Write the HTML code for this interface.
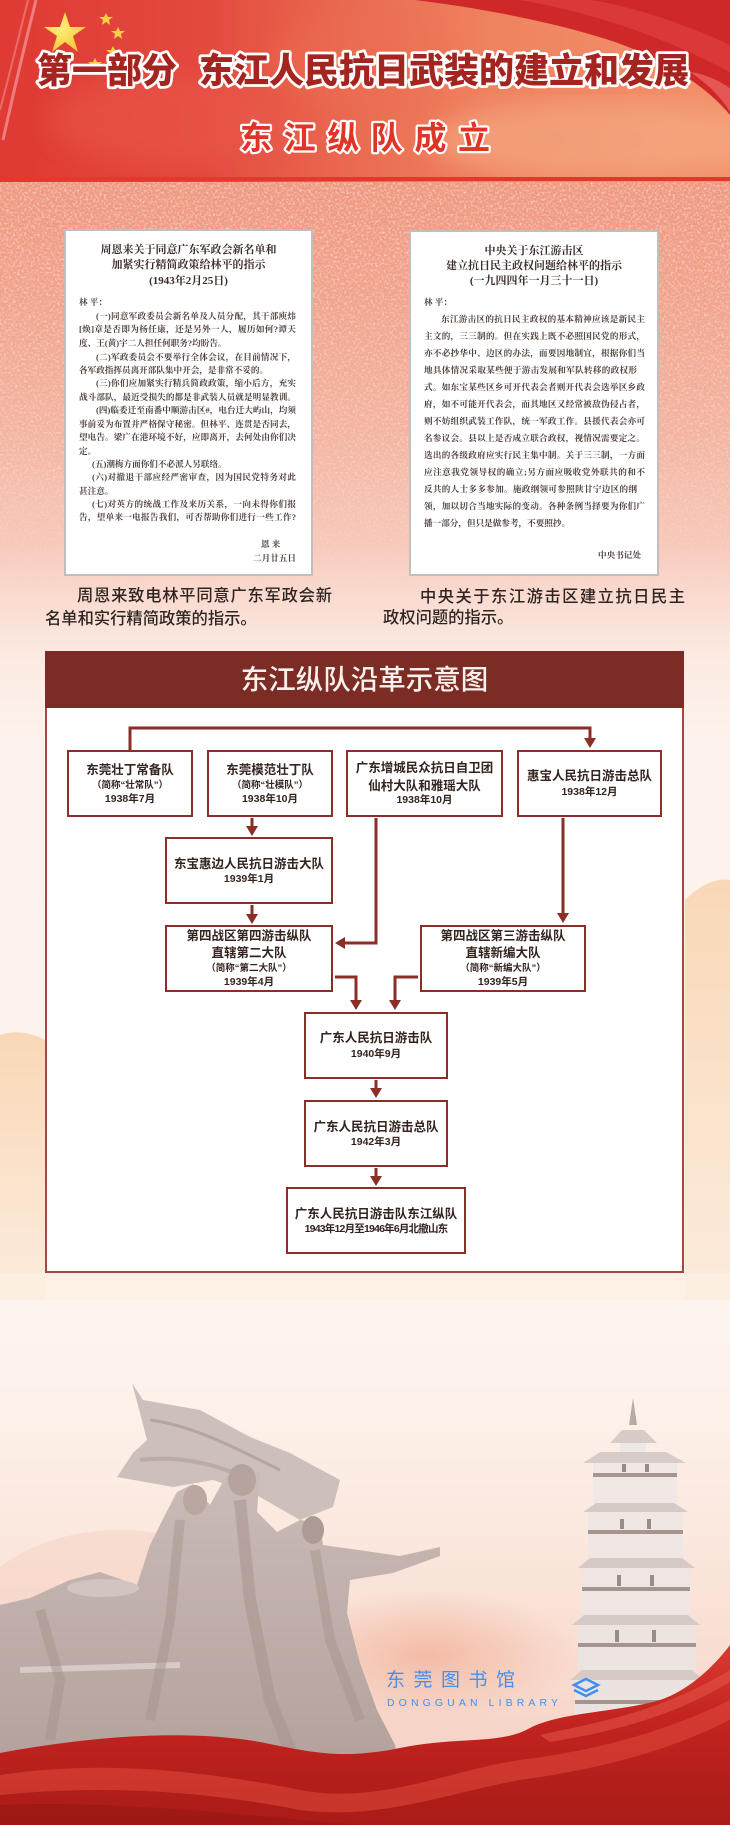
<!DOCTYPE html>
<html><head><meta charset="utf-8">
<style>
*{margin:0;padding:0;box-sizing:border-box}
html,body{width:730px;height:1825px;overflow:hidden}
body{position:relative;font-family:"Liberation Sans","Noto Sans CJK SC",sans-serif;background:#fdf3ed}
.abs{position:absolute}
.bg{position:absolute;left:0;top:181px;width:730px;height:1644px;
background:linear-gradient(to bottom,#ef9880 0px,#f1a28b 110px,#f4b5a2 260px,#f7c8b9 360px,#fadcd1 420px,#fcebe3 480px,#fdf2ec 560px,#fdf4ee 1100px,#fdf3ec 1200px,#fbe8de 1350px,#f8dbcf 1500px,#f5cfc2 1600px)}
.doc{position:absolute;background:#fff;border:2px solid #c3bebd}
.dt{position:absolute;font-family:"Liberation Serif","Noto Serif CJK SC",serif;font-weight:700;color:#3b2c28;font-size:11px;line-height:14px;height:14px;text-align:center;white-space:nowrap}
.dl{position:absolute;font-family:"Liberation Serif","Noto Serif CJK SC",serif;color:#4e403c;font-size:8.6px;line-height:12px;height:12px;text-align:justify;text-align-last:justify;font-weight:700}
.dl.s{text-align:left;text-align-last:left}
.cap{position:absolute;font-size:16.3px;line-height:22px;height:22px;color:#2e2422;font-weight:500;white-space:nowrap}
.cap.j{text-align:justify;text-align-last:justify;white-space:normal}
.frame{position:absolute;left:45px;top:651px;width:639px;height:622px;background:#fff;border:2px solid #a04a42}
.bar{position:absolute;left:45px;top:651px;width:639px;height:57px;background:#7a2c25;color:#fbf1ec;font-size:27.5px;font-weight:500;text-align:center;line-height:57px}
.box{position:absolute;border:2.2px solid #8b2e27;background:#fff}
.t{position:absolute;text-align:center;white-space:nowrap;color:#33241f;font-weight:700;height:16px;line-height:16px}
.n{font-size:12.5px}
.a{font-size:9.5px}
.d{font-size:10.5px}
</style></head>
<body>
<div class="bg"></div>

<!-- speckle texture on salmon area -->
<svg class="abs" style="left:0;top:181px" width="730" height="420" viewBox="0 0 730 420">
<defs>
<filter id="nz" x="0" y="0" width="100%" height="100%">
<feTurbulence type="fractalNoise" baseFrequency="0.45" numOctaves="2" seed="7"/>
<feColorMatrix type="matrix" values="0 0 0 0 1  0 0 0 0 1  0 0 0 0 1  1.8 0 0 0 -0.82"/>
</filter>
<linearGradient id="fm" x1="0" y1="0" x2="0" y2="1"><stop offset="0" stop-color="#fff"/><stop offset=".7" stop-color="#fff" stop-opacity=".6"/><stop offset="1" stop-color="#fff" stop-opacity="0"/></linearGradient>
<mask id="mk"><rect width="730" height="420" fill="url(#fm)"/></mask>
</defs>
<rect width="730" height="420" filter="url(#nz)" mask="url(#mk)" opacity=".8"/>
</svg>

<!-- side peach hills -->
<svg class="abs" style="left:0;top:860px" width="730" height="440" viewBox="0 860 730 440">
<defs>
<linearGradient id="pk" x1="0" y1="0" x2="0" y2="1"><stop offset="0" stop-color="#f9d8b8"/><stop offset="1" stop-color="#fcecdc"/></linearGradient>
</defs>
<path d="M685,900 C700,885 715,878 730,880 L730,1300 L685,1300Z" fill="url(#pk)"/>
<path d="M0,1035 C15,1030 30,1032 45,1040 L45,1300 L0,1300Z" fill="url(#pk)"/>
<path d="M0,1273 L730,1273 L730,1300 L0,1300Z" fill="#fcefe2" opacity=".7"/>
</svg>

<!-- header -->
<svg class="abs" style="left:0;top:0" width="730" height="182" viewBox="0 0 730 182">
<defs>
<linearGradient id="hg" x1="0" y1="0" x2="1" y2="0">
<stop offset="0" stop-color="#df3a33"/><stop offset=".28" stop-color="#e4493e"/><stop offset=".48" stop-color="#ea6a50"/><stop offset=".68" stop-color="#ef8360"/><stop offset="1" stop-color="#f2926c"/></linearGradient>
<radialGradient id="st" cx=".4" cy=".4" r=".7"><stop offset="0" stop-color="#fff07a"/><stop offset="1" stop-color="#f2c232"/></radialGradient>
<filter id="bl"><feGaussianBlur stdDeviation="12"/></filter>
</defs>
<rect x="0" y="0" width="730" height="182" fill="url(#hg)"/>
<ellipse cx="600" cy="140" rx="170" ry="38" fill="#f6ad86" opacity=".6" filter="url(#bl)"/>
<ellipse cx="170" cy="120" rx="120" ry="45" fill="#ea5a4e" opacity=".5" filter="url(#bl)"/>
<ellipse cx="360" cy="60" rx="90" ry="50" fill="#ec6f52" opacity=".35" filter="url(#bl)"/>
<path d="M36,0 C26,40 14,90 3,140" stroke="#f59aa0" stroke-width="3" fill="none" opacity=".7"/>
<path d="M28,0 C18,40 8,80 0,110" stroke="#f4a0a0" stroke-width="2" fill="none" opacity=".5"/>
<!-- curtain -->
<path d="M415,0 C480,8 555,22 615,42 C665,60 705,85 730,115 L730,0Z" fill="#cf2829"/>
<path d="M520,0 C590,12 660,35 730,72 L730,45 C680,22 630,6 590,0Z" fill="#e0403f" opacity=".7"/>
<path d="M690,72 C705,82 720,95 730,112 L730,88 C718,80 705,74 690,72Z" fill="#ee6a66" opacity=".7"/>
<!-- stars -->
<polygon points="65,12 70,27 86,27 73,36 78,52 65,42 52,52 57,36 44,27 60,27" fill="url(#st)"/>
<polygon points="106,13 108,17 113,17 109,20 110,25 106,22 102,25 103,20 99,17 104,17" fill="#f5cf45"/>
<polygon points="118,27 120,31 125,31 121,34 122,39 118,36 114,39 115,34 111,31 116,31" fill="#f5cf45"/>
<polygon points="113,46 115,50 120,50 116,53 117,58 113,55 109,58 110,53 106,50 111,50" fill="#f5cf45"/>
<polygon points="95,58 97,62 102,62 98,65 99,70 95,67 91,70 92,65 88,62 93,62" fill="#f5cf45"/>
<rect x="0" y="177" width="730" height="4" fill="#e3382b"/>
<g font-family="Liberation Sans, Noto Sans CJK SC, sans-serif" stroke="#fff" paint-order="stroke" stroke-linejoin="round">
<text x="37" y="83" font-size="35" font-weight="900" fill="#a42520" stroke-width="5.5">第一部分</text>
<text x="199" y="83" font-size="35" font-weight="900" fill="#a42520" stroke-width="5.5">东江人民抗日武装的建立和发展</text>
<text x="240 283.6 327.2 370.8 414.4 458" y="149" font-size="32" font-weight="700" fill="#e13326" stroke-width="4.5">东江纵队成立</text>
</g>
</svg>

<!-- documents -->
<div class="doc" style="left:64px;top:229px;width:249px;height:347px"></div>
<div class="doc" style="left:409px;top:230px;width:250px;height:346px"></div>

<div class="dt" style="left:64px;width:249px;top:243px">周恩来关于同意广东军政会新名单和</div>
<div class="dt" style="left:64px;width:249px;top:258px">加紧实行精简政策给林平的指示</div>
<div class="dt" style="left:64px;width:249px;top:274px">(1943年2月25日)</div>
<div class="dl s" style="left:79px;width:60px;top:296px">林 平：</div>
<div class="dl" style="left:96px;width:200px;top:310px">(一)同意军政委员会新名单及人员分配，其干部庾炜</div>
<div class="dl" style="left:79px;width:217px;top:323px">[焕]章是否即为杨任康，还是另外一人，履历如何?谭天</div>
<div class="dl s" style="left:79px;width:217px;top:337px">度、王(黄)宇二人担任何职务?均盼告。</div>
<div class="dl" style="left:96px;width:200px;top:351px">(二)军政委员会不要举行全体会议，在目前情况下，</div>
<div class="dl s" style="left:79px;width:217px;top:364px">各军政指挥员离开部队集中开会，是非常不妥的。</div>
<div class="dl" style="left:96px;width:200px;top:377px">(三)你们应加紧实行精兵简政政策，缩小后方，充实</div>
<div class="dl" style="left:79px;width:217px;top:391px">战斗部队，最近受损失的都是非武装人员就是明显教训。</div>
<div class="dl" style="left:96px;width:200px;top:404px">(四)临委迁至南番中顺游击区#，电台迁大屿山，均须</div>
<div class="dl" style="left:79px;width:217px;top:418px">事前妥为布置并严格保守秘密。但林平、连贯是否同去，</div>
<div class="dl" style="left:79px;width:217px;top:431px">望电告。梁广在港环境不好，应即离开，去何处由你们决</div>
<div class="dl s" style="left:79px;width:60px;top:445px">定。</div>
<div class="dl s" style="left:92px;width:204px;top:458px">(五)潮梅方面你们不必派人另联络。</div>
<div class="dl" style="left:92px;width:204px;top:471px">(六)对撤退干部应经严密审查，因为国民党特务对此</div>
<div class="dl s" style="left:79px;width:60px;top:485px">甚注意。</div>
<div class="dl" style="left:92px;width:204px;top:498px">(七)对英方的统战工作及来历关系，一向未得你们报</div>
<div class="dl" style="left:79px;width:217px;top:511px">告，望单来一电报告我们，可否帮助你们进行一些工作?</div>
<div class="dl s" style="left:261px;width:40px;top:538px">恩 来</div>
<div class="dl s" style="left:253px;width:50px;top:552px">二月廿五日</div>

<div class="dt" style="left:409px;width:250px;top:244px">中央关于东江游击区</div>
<div class="dt" style="left:409px;width:250px;top:259px">建立抗日民主政权问题给林平的指示</div>
<div class="dt" style="left:409px;width:250px;top:274px">(一九四四年一月三十一日)</div>
<div class="dl s" style="left:424px;width:60px;top:296px">林 平：</div>
<div class="dl" style="left:441px;width:204px;top:313px">东江游击区的抗日民主政权的基本精神应该是新民主</div>
<div class="dl" style="left:424px;width:221px;top:330px">主文的，三三制的。但在实践上既不必照国民党的形式，</div>
<div class="dl" style="left:424px;width:221px;top:347px">亦不必抄华中、边区的办法，而要因地制宜，根据你们当</div>
<div class="dl" style="left:424px;width:213px;top:364px">地具体情况采取某些便于游击发展和军队转移的政权形</div>
<div class="dl" style="left:424px;width:221px;top:381px">式。如东宝某些区乡可开代表会者则开代表会选举区乡政</div>
<div class="dl" style="left:424px;width:221px;top:398px">府，如不可能开代表会，而其地区又经常被敌伪侵占者，</div>
<div class="dl" style="left:424px;width:221px;top:415px">则不妨组织武装工作队，统一军政工作。县援代表会亦可</div>
<div class="dl" style="left:424px;width:221px;top:432px">名参议会。县以上是否成立联合政权，视情况需要定之。</div>
<div class="dl" style="left:424px;width:221px;top:449px">选出的各级政府应实行民主集中制。关于三三制，一方面</div>
<div class="dl" style="left:424px;width:221px;top:466px">应注意我党领导权的确立;另方面应吸收党外联共的和不</div>
<div class="dl" style="left:424px;width:213px;top:483px">反共的人士多多参加。施政纲领可参照陕甘宁边区的纲</div>
<div class="dl" style="left:424px;width:221px;top:500px">领，加以切合当地实际的变动。各种条例当择要为你们广</div>
<div class="dl s" style="left:424px;width:221px;top:517px">播一部分，但只是做参考，不要照抄。</div>
<div class="dl s" style="left:598px;width:50px;top:549px">中央书记处</div>

<!-- captions -->
<div class="cap j" style="left:77px;width:255px;top:585px">周恩来致电林平同意广东军政会新</div>
<div class="cap" style="left:45px;top:608px">名单和实行精简政策的指示。</div>
<div class="cap j" style="left:420px;width:265px;top:586px">中央关于东江游击区建立抗日民主</div>
<div class="cap" style="left:383px;top:607px">政权问题的指示。</div>

<!-- chart -->
<div class="frame"></div>
<div class="bar">东江纵队沿革示意图</div>

<div class="box" style="left:67px;top:750px;width:126px;height:67px"></div>
<div class="t n" style="left:67px;width:126px;top:762px">东莞壮丁常备队</div>
<div class="t a" style="left:67px;width:126px;top:778px">（简称“壮常队”）</div>
<div class="t d" style="left:67px;width:126px;top:791px">1938年7月</div>

<div class="box" style="left:207px;top:750px;width:126px;height:67px"></div>
<div class="t n" style="left:207px;width:126px;top:762px">东莞模范壮丁队</div>
<div class="t a" style="left:207px;width:126px;top:778px">（简称“壮模队”）</div>
<div class="t d" style="left:207px;width:126px;top:791px">1938年10月</div>

<div class="box" style="left:346px;top:750px;width:157px;height:67px"></div>
<div class="t n" style="left:346px;width:157px;top:760px">广东增城民众抗日自卫团</div>
<div class="t n" style="left:346px;width:157px;top:778px">仙村大队和雅瑶大队</div>
<div class="t d" style="left:346px;width:157px;top:792px">1938年10月</div>

<div class="box" style="left:517px;top:750px;width:145px;height:67px"></div>
<div class="t n" style="left:517px;width:145px;top:768px">惠宝人民抗日游击总队</div>
<div class="t d" style="left:517px;width:145px;top:784px">1938年12月</div>

<div class="box" style="left:165px;top:837px;width:168px;height:67px"></div>
<div class="t n" style="left:165px;width:168px;top:856px">东宝惠边人民抗日游击大队</div>
<div class="t d" style="left:165px;width:168px;top:871px">1939年1月</div>

<div class="box" style="left:165px;top:925px;width:168px;height:67px"></div>
<div class="t n" style="left:165px;width:168px;top:928px">第四战区第四游击纵队</div>
<div class="t n" style="left:165px;width:168px;top:945px">直辖第二大队</div>
<div class="t a" style="left:165px;width:168px;top:961px">（简称“第二大队”）</div>
<div class="t d" style="left:165px;width:168px;top:974px">1939年4月</div>

<div class="box" style="left:420px;top:925px;width:166px;height:67px"></div>
<div class="t n" style="left:420px;width:166px;top:928px">第四战区第三游击纵队</div>
<div class="t n" style="left:420px;width:166px;top:945px">直辖新编大队</div>
<div class="t a" style="left:420px;width:166px;top:961px">（简称“新编大队”）</div>
<div class="t d" style="left:420px;width:166px;top:974px">1939年5月</div>

<div class="box" style="left:304px;top:1012px;width:144px;height:67px"></div>
<div class="t n" style="left:304px;width:144px;top:1030px">广东人民抗日游击队</div>
<div class="t d" style="left:304px;width:144px;top:1046px">1940年9月</div>

<div class="box" style="left:304px;top:1100px;width:144px;height:67px"></div>
<div class="t n" style="left:304px;width:144px;top:1119px">广东人民抗日游击总队</div>
<div class="t d" style="left:304px;width:144px;top:1134px">1942年3月</div>

<div class="box" style="left:286px;top:1187px;width:180px;height:67px"></div>
<div class="t n" style="left:286px;width:180px;top:1206px">广东人民抗日游击队东江纵队</div>
<div class="t d" style="left:286px;width:180px;top:1221px;letter-spacing:-0.8px">1943年12月至1946年6月北撤山东</div>

<svg class="abs" style="left:0;top:0" width="730" height="1300" viewBox="0 0 730 1300">
<g stroke="#8b2e27" stroke-width="3" fill="none" stroke-linejoin="miter">
<path d="M130,750 L130,728 L590,728 L590,739"/>
<path d="M252,818 L252,828"/>
<path d="M252,905 L252,916"/>
<path d="M376,818 L376,943 L344,943"/>
<path d="M563,818 L563,915"/>
<path d="M335,977 L356,977 L356,1002"/>
<path d="M418,977 L395,977 L395,1002"/>
<path d="M376,1080 L376,1090"/>
<path d="M376,1168 L376,1178"/>
</g>
<g fill="#8b2e27">
<polygon points="584,738 596,738 590,748"/>
<polygon points="246,826 258,826 252,836"/>
<polygon points="246,914 258,914 252,924"/>
<polygon points="345,937 345,949 335,943"/>
<polygon points="557,913 569,913 563,923"/>
<polygon points="350,1000 362,1000 356,1010"/>
<polygon points="389,1000 401,1000 395,1010"/>
<polygon points="370,1088 382,1088 376,1098"/>
<polygon points="370,1176 382,1176 376,1186"/>
</g>
</svg>

<!-- bottom scene -->
<svg class="abs" style="left:0;top:1280px" width="730" height="545" viewBox="0 1280 730 545">
<defs>
<radialGradient id="sp" cx=".5" cy=".5" r=".5"><stop offset="0" stop-color="#f2ad94" stop-opacity=".7"/><stop offset="1" stop-color="#f2ad94" stop-opacity="0"/></radialGradient>
<linearGradient id="rb" x1="0" y1="0" x2="0" y2="1"><stop offset="0" stop-color="#d93a30"/><stop offset=".4" stop-color="#c42420"/><stop offset="1" stop-color="#a91b17"/></linearGradient>
<linearGradient id="sg" x1="0" y1="0" x2="0" y2="1"><stop offset="0" stop-color="#cbbcb8"/><stop offset="1" stop-color="#b4a19c"/></linearGradient>
</defs>
<ellipse cx="430" cy="1655" rx="150" ry="65" fill="url(#sp)"/>
<ellipse cx="120" cy="1640" rx="160" ry="110" fill="#f3c8ba" opacity=".35"/>
<!-- flag -->
<path d="M132,1383 L143,1400 L200,1410 L250,1437 L290,1453 L340,1480 L333,1507 L300,1520 L253,1493 L213,1480 L173,1487 L117,1477 L133,1453 L147,1440 L140,1413Z" fill="#cdbfbb"/>
<path d="M150,1420 C190,1425 230,1445 280,1470" stroke="#a8938f" stroke-width="3" fill="none" opacity=".6"/>
<path d="M140,1460 C180,1455 220,1465 250,1480" stroke="#ad9894" stroke-width="4" fill="none" opacity=".5"/>
<!-- figures -->
<path d="M0,1605 L30,1598 L70,1580 L100,1572 L137,1585 L150,1545 L165,1515 L177,1492 L193,1484 L210,1505 L225,1478 L240,1466 L260,1472 L257,1512 L277,1532 L300,1520 L320,1523 L323,1545 L400,1556 L440,1547 L440,1556 L393,1573 L350,1580 L347,1613 L360,1663 L377,1710 L395,1745 L400,1765 L0,1765Z" fill="url(#sg)"/>
<ellipse cx="103" cy="1588" rx="36" ry="9" fill="#d2c4c0"/>
<ellipse cx="242" cy="1480" rx="14" ry="16" fill="#b6a39e"/>
<ellipse cx="195" cy="1500" rx="12" ry="15" fill="#baa7a2"/>
<ellipse cx="313" cy="1530" rx="11" ry="14" fill="#ae9a95"/>
<path d="M20,1670 L180,1665" stroke="#d8cac6" stroke-width="6"/>
<path d="M240,1500 L250,1600 L270,1700 L290,1750" stroke="#a5908b" stroke-width="12" fill="none" opacity=".5"/>
<path d="M180,1520 L170,1620 L150,1720" stroke="#a5908b" stroke-width="10" fill="none" opacity=".45"/>
<path d="M315,1550 L330,1640 L360,1720" stroke="#a5908b" stroke-width="10" fill="none" opacity=".45"/>
<path d="M40,1610 L60,1680 L50,1740" stroke="#a5908b" stroke-width="10" fill="none" opacity=".45"/>
<!-- pagoda -->
<g>
<path d="M633,1398 L629,1425 L637,1425Z" fill="#b9aaa6"/>
<polygon points="610,1443 622,1430 644,1430 657,1443" fill="#d8ccc8"/>
<rect x="620" y="1443" width="26" height="12" fill="#eee7e3"/>
<polygon points="583,1463 600,1452 666,1452 686,1463" fill="#d8ccc8"/>
<rect x="593" y="1463" width="84" height="40" fill="#efe8e4"/>
<rect x="593" y="1473" width="84" height="4" fill="#a69490"/>
<polygon points="583,1512 596,1503 674,1503 688,1512" fill="#d6cac6"/>
<rect x="588" y="1512" width="95" height="45" fill="#eee7e3"/>
<rect x="588" y="1530" width="95" height="4" fill="#a69490"/>
<polygon points="578,1568 590,1558 682,1558 695,1568" fill="#d6cac6"/>
<rect x="582" y="1568" width="108" height="47" fill="#ede6e2"/>
<rect x="582" y="1587" width="108" height="4" fill="#a69490"/>
<polygon points="572,1625 584,1615 688,1615 700,1625" fill="#d6cac6"/>
<rect x="578" y="1625" width="118" height="45" fill="#ece4e0"/>
<rect x="578" y="1643" width="118" height="4" fill="#a69490"/>
<polygon points="570,1680 582,1670 692,1670 704,1680" fill="#d6cac6"/>
<rect x="575" y="1680" width="124" height="45" fill="#ebe3df"/>
<rect x="575" y="1700" width="124" height="4" fill="#a69490"/>
<g fill="#9c8a86">
<rect x="622" y="1464" width="4" height="8"/><rect x="645" y="1464" width="4" height="8"/>
<rect x="620" y="1519" width="4" height="10"/><rect x="647" y="1519" width="4" height="10"/>
<rect x="617" y="1575" width="4" height="11"/><rect x="650" y="1575" width="4" height="11"/>
<rect x="615" y="1630" width="4" height="12"/><rect x="652" y="1630" width="4" height="12"/>
</g>
</g>
<!-- ribbon -->
<path d="M0,1753 C80,1738 180,1728 260,1742 C310,1752 340,1760 400,1748 C460,1736 500,1745 530,1728 C560,1712 620,1712 660,1700 C690,1690 715,1665 730,1645 L730,1825 L0,1825Z" fill="url(#rb)"/>
<path d="M0,1775 C100,1760 200,1770 300,1790 C380,1805 450,1770 520,1760 C600,1750 670,1730 730,1700 L730,1720 C660,1755 590,1770 520,1780 C440,1795 380,1820 300,1810 C200,1790 100,1785 0,1795Z" fill="#e04a3c" opacity=".55"/>
<path d="M540,1735 C600,1722 660,1712 730,1670 L730,1682 C670,1718 610,1732 550,1742Z" fill="#e85a4a" opacity=".5"/>
<path d="M0,1805 C120,1800 240,1815 360,1825 L0,1825Z" fill="#961714" opacity=".6"/>
<!-- logo icon -->
<path d="M574,1685 L586,1679 L598,1685 L586,1691Z" fill="none" stroke="#3f8ff0" stroke-width="2.5"/>
<path d="M574,1690 L586,1696 L598,1690" fill="none" stroke="#3f8ff0" stroke-width="2.5"/>
</svg>

<div class="abs" style="left:386px;top:1668px;font-size:19px;line-height:26px;color:#4291ef;letter-spacing:8.5px;white-space:nowrap">东莞图书馆</div>
<div class="abs" style="left:387px;top:1697px;font-size:10.5px;line-height:12px;color:#4291ef;letter-spacing:4.1px;white-space:nowrap">DONGGUAN LIBRARY</div>
</body></html>
